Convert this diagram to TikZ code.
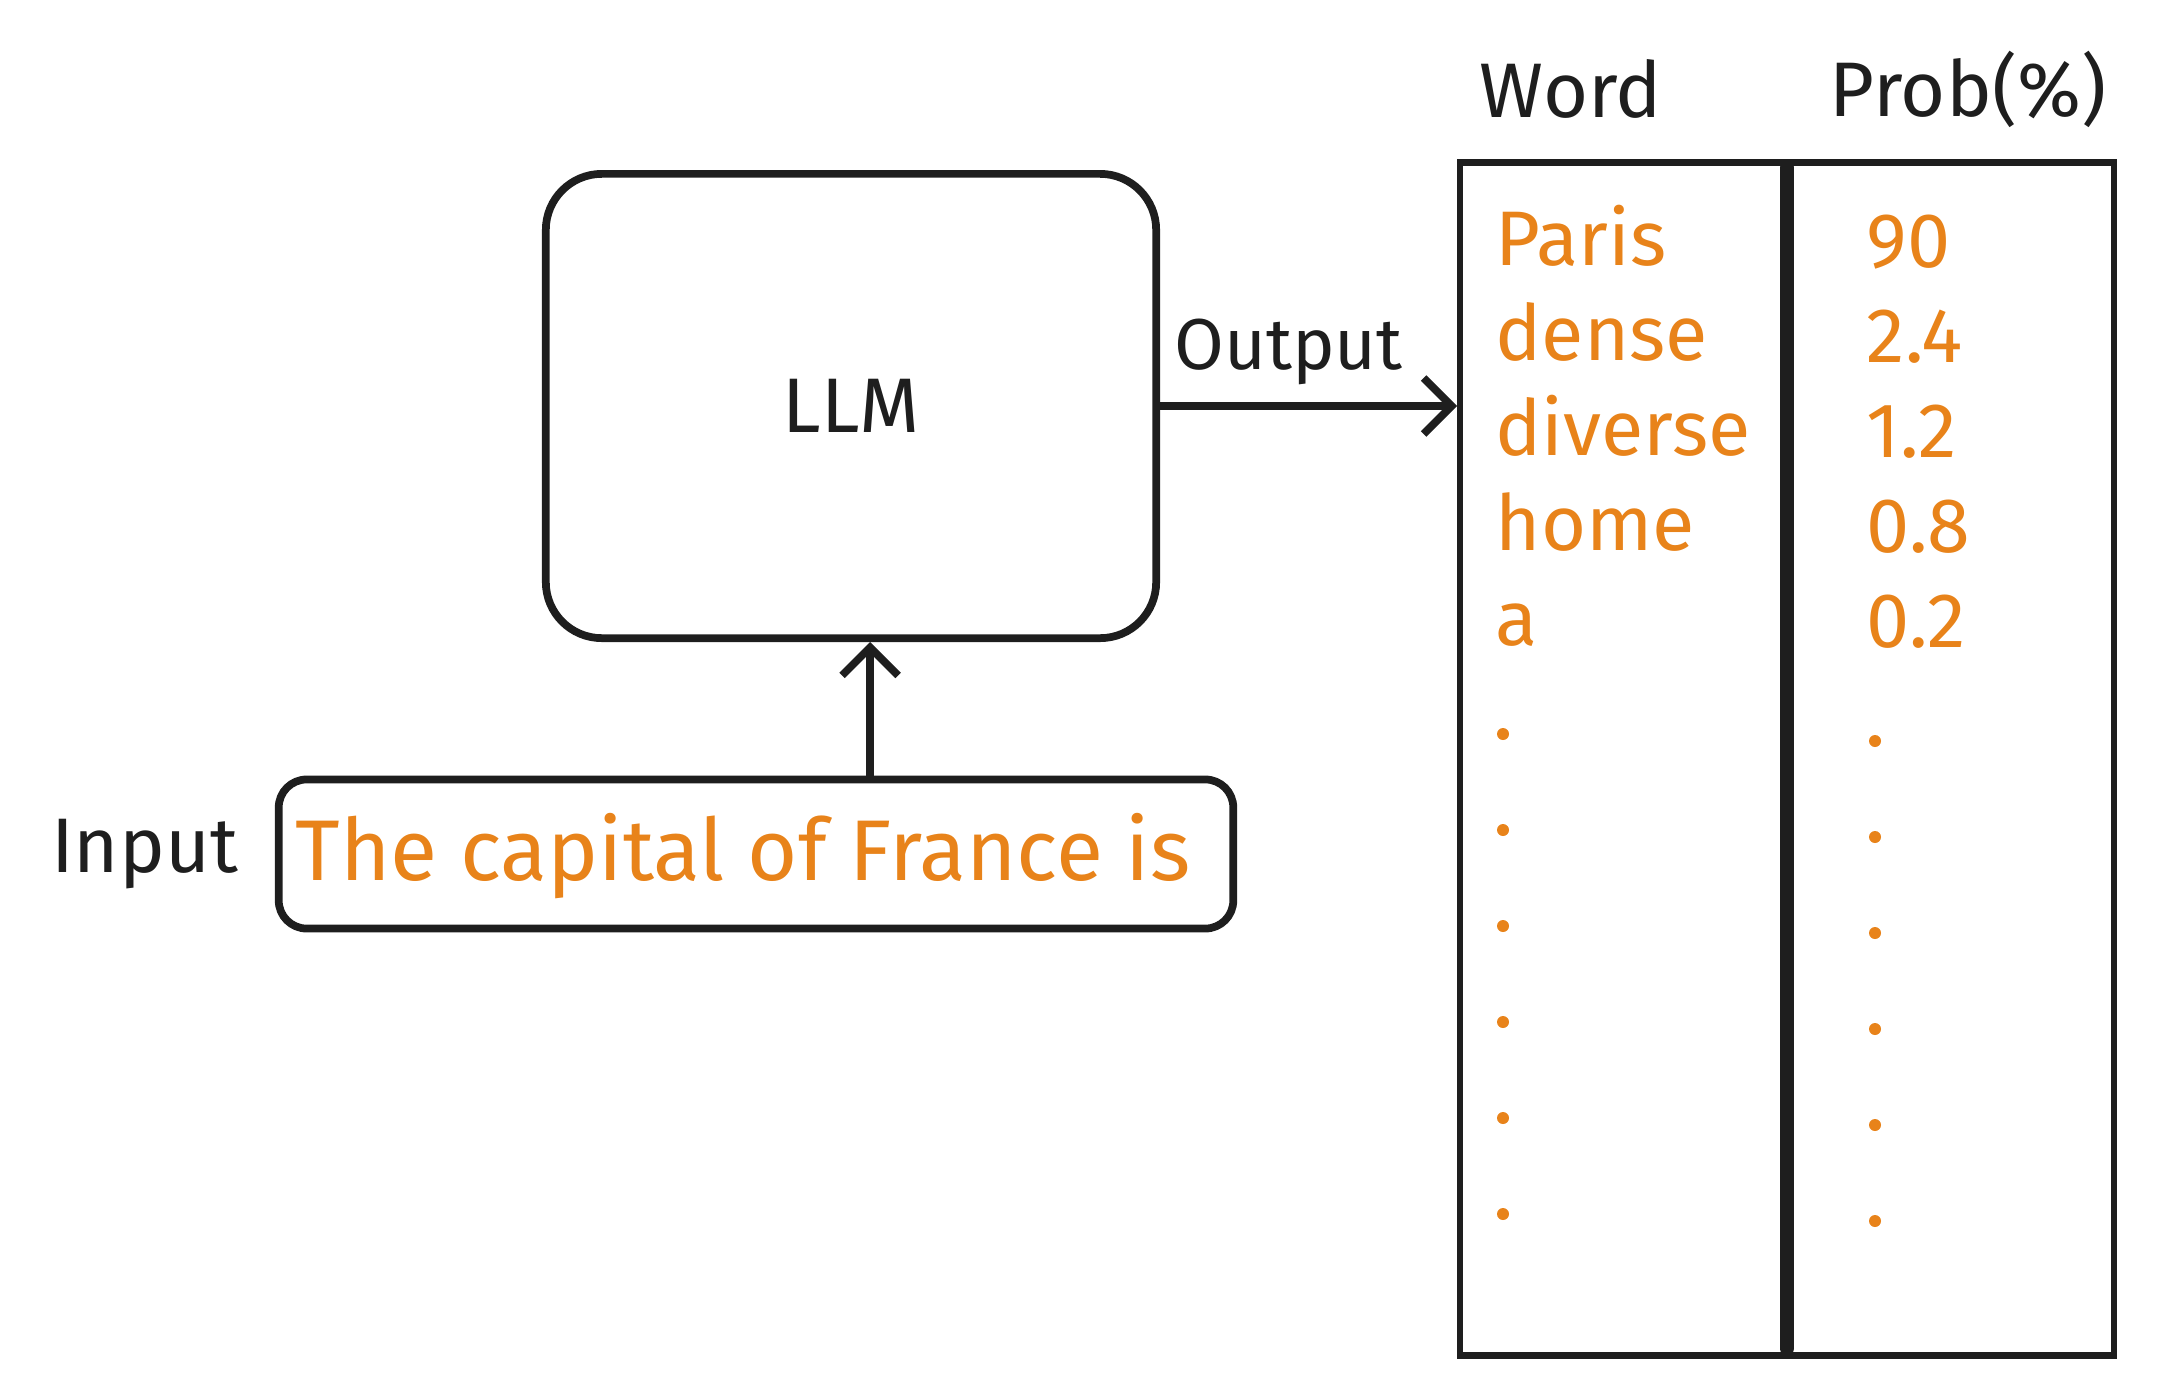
\documentclass[tikz,border=0pt]{standalone}
\usepackage{fontspec}
\setmainfont{Fira Sans}
\usetikzlibrary{arrows.meta,positioning}
\definecolor{ink}{RGB}{30,30,30}
\definecolor{tokorange}{RGB}{232,131,26}
\tikzset{
  lbl/.style={font=\fontsize{22}{26}\selectfont, text=ink, inner sep=0pt},
  tok/.style={lbl, text=tokorange},
  blockbox/.style={draw=ink, line width=2.2pt, rounded corners=0.56cm},
  arr/.style={draw=ink, line width=2.2pt, -{Straight Barb[length=0.28cm, width=0.56cm, line width=2.2pt]}},
  dotmark/.style={circle, fill=tokorange, inner sep=0pt, minimum size=0.12cm}
}

\begin{document}
\begin{tikzpicture}[x=0.01cm, y=-0.01cm]
        \useasboundingbox (0,0) rectangle (2184,1390);
        % model and prompt
        \node[blockbox, lbl, minimum width=6.1cm, minimum height=4.64cm] (llm) at (851,406) {LLM};
        \node[blockbox, rounded corners=0.28cm, minimum width=9.54cm, minimum height=1.49cm] (inp) at (756,854) {};
        \node[tok, anchor=west, font=\fontsize{24.5}{28}\selectfont] (prompt) at (295,856) {The capital of France is};
        \node[lbl, left=0.36cm of inp] (inlabel) {Input};
        \coordinate (tip) at ([xshift=0.19cm]llm.south);
        \draw[arr] (tip |- inp.north) -- (tip);
        % table of next words
        \node[draw=ink, line width=1.8pt, minimum width=6.53cm, minimum height=11.92cm] (tab) at (1787,759) {};
        \draw[ink, line width=4pt, line cap=round] ([yshift=-0.08cm]tab.north) -- ([yshift=0.1cm]tab.south);
        \node[lbl] (hword) at (1571,89) {Word};
        \node[lbl] (hprob) at (1968,89) {Prob(\%)};
        \draw[arr] (llm.east) -- (llm.east -| tab.west) node[lbl, midway, above=0.17cm, xshift=-0.2cm, font=\fontsize{20.5}{24}\selectfont] (outlabel) {Output};
        \foreach \w/\p [count=\i from 0] in {Paris/90, dense/2.4, diverse/1.2, home/0.8, a/0.2} {
            \node[tok, anchor=base west] (w\i) at (1495,265+95*\i) {\w};
            \node[tok, anchor=base west] (p\i) at (1866,267+95*\i) {\p};
        }
        \foreach \k in {0,...,5} {
            \node[dotmark] (wd\k) at (1503,734+96*\k) {};
            \node[dotmark] (pd\k) at (1875,741+96*\k) {};
        }
    \end{tikzpicture}
\end{document}
